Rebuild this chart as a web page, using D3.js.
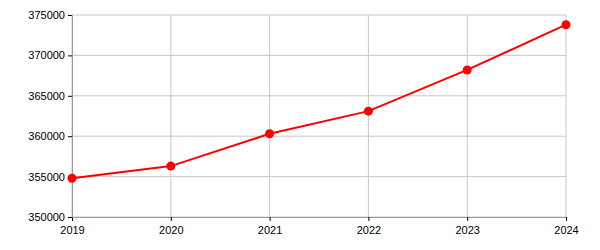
<!DOCTYPE html>
<html>
<head>
<meta charset="utf-8">
<script src="https://cdn.jsdelivr.net/npm/d3@7"></script>
<style>
  body { margin: 0; background: #fff; }
  text { font-family: Arial, "Liberation Sans", sans-serif; }
</style>
</head>
<body>
<div id="chart"></div>
<script>
const years = [2019, 2020, 2021, 2022, 2023, 2024];
const values = [354800, 356300, 360300, 363100, 368200, 373800];
const yTicks = [350000, 355000, 360000, 365000, 370000, 375000];

const margin = { top: 15, right: 34, bottom: 33, left: 72 };
const width = 600 - margin.left - margin.right;
const height = 250 - margin.top - margin.bottom;

const svg = d3.select('#chart')
  .append('svg')
  .attr('width', 600)
  .attr('height', 250)
  .append('g')
  .attr('transform', `translate(${margin.left},${margin.top})`);

const x = d3.scaleLinear().domain([2019, 2024]).range([0, width]);
const y = d3.scaleLinear().domain([350000, 375000]).range([height, 0]);

// gridlines
svg.append('g')
  .selectAll('line.vg')
  .data(years)
  .enter().append('line')
  .attr('x1', d => x(d)).attr('x2', d => x(d))
  .attr('y1', 0).attr('y2', height)
  .attr('stroke', '#c8c8c8');

svg.append('g')
  .selectAll('line.hg')
  .data(yTicks)
  .enter().append('line')
  .attr('x1', 0).attr('x2', width)
  .attr('y1', d => y(d)).attr('y2', d => y(d))
  .attr('stroke', '#c8c8c8');

const xAxis = svg.append('g')
  .attr('transform', `translate(0,${height})`)
  .call(d3.axisBottom(x).tickValues(years).tickFormat(d3.format('d')).tickSizeOuter(0).tickSize(4));

const yAxis = svg.append('g')
  .call(d3.axisLeft(y).tickValues(yTicks).tickFormat(d3.format('d')).tickSizeOuter(0).tickSize(4));

svg.selectAll('.domain').attr('stroke', '#999');
svg.selectAll('.tick line').attr('stroke', '#000');
svg.selectAll('.tick text').attr('font-size', 11).attr('fill', '#000')
  .attr('font-family', 'Arial, "Liberation Sans", sans-serif');
xAxis.selectAll('.tick text').attr('dy', '0.9em');

const line = d3.line()
  .x((d, i) => x(years[i]))
  .y(d => y(d));

svg.append('path')
  .datum(values)
  .attr('d', line)
  .attr('fill', 'none')
  .attr('stroke', '#ff0000')
  .attr('stroke-width', 2);

svg.selectAll('.dot')
  .data(values)
  .enter().append('circle')
  .attr('cx', (d, i) => x(years[i]))
  .attr('cy', d => y(d))
  .attr('r', 4.5)
  .attr('fill', '#ff0000');
</script>
</body>
</html>
